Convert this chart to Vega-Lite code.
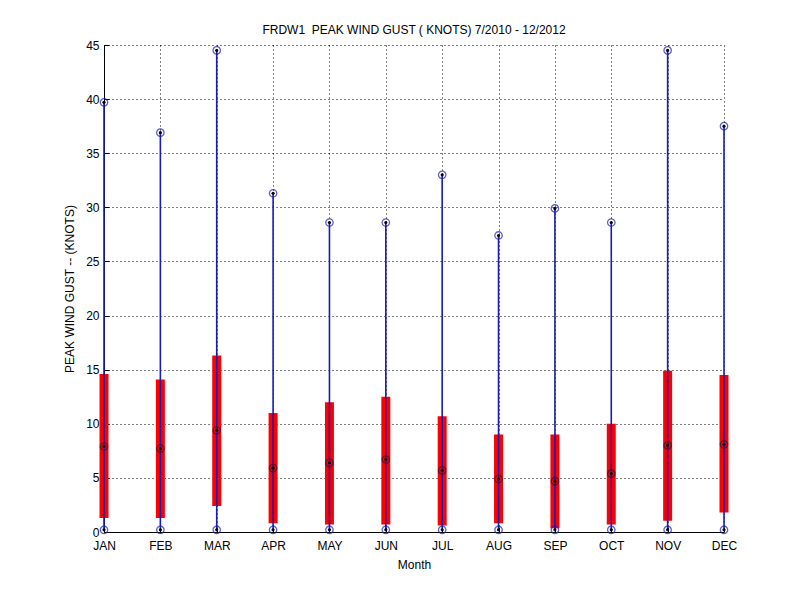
{
  "$schema": "https://vega.github.io/schema/vega-lite/v6.json",
  "autosize": "none",
  "width": 620,
  "height": 487,
  "padding": {"left": 104, "top": 45, "right": 76, "bottom": 68},
  "background": "white",
  "title": {
    "text": "FRDW1 \u00a0PEAK WIND GUST ( KNOTS) 7/2010 - 12/2012",
    "font": "Liberation Sans",
    "fontSize": 12,
    "fontWeight": "normal",
    "color": "black",
    "offset": 2
  },
  "config": {
    "view": {"stroke": null},
    "axis": {
      "labelFont": "Liberation Sans",
      "labelFontSize": 12,
      "labelColor": "black",
      "titleFont": "Liberation Sans",
      "titleFontSize": 12,
      "titleFontWeight": "normal",
      "titleColor": "black",
      "domainColor": "black",
      "tickColor": "black",
      "tickSize": -5,
      "gridColor": "black",
      "gridOpacity": 1,
      "gridDash": [1, 3],
      "gridWidth": 1,
      "zindex": 0
    }
  },
  "data": {
    "values": [
      {"month": "JAN", "min": 0.2, "q1": 1.3, "median": 7.9, "q3": 14.6, "max": 39.7},
      {"month": "FEB", "min": 0.2, "q1": 1.3, "median": 7.7, "q3": 14.1, "max": 36.9},
      {"month": "MAR", "min": 0.2, "q1": 2.4, "median": 9.4, "q3": 16.3, "max": 44.5},
      {"month": "APR", "min": 0.2, "q1": 0.8, "median": 5.9, "q3": 11.0, "max": 31.3},
      {"month": "MAY", "min": 0.2, "q1": 0.7, "median": 6.4, "q3": 12.0, "max": 28.6},
      {"month": "JUN", "min": 0.2, "q1": 0.7, "median": 6.7, "q3": 12.5, "max": 28.6},
      {"month": "JUL", "min": 0.2, "q1": 0.6, "median": 5.7, "q3": 10.7, "max": 33.0},
      {"month": "AUG", "min": 0.2, "q1": 0.8, "median": 4.9, "q3": 9.0, "max": 27.4},
      {"month": "SEP", "min": 0.2, "q1": 0.35, "median": 4.7, "q3": 9.0, "max": 29.9},
      {"month": "OCT", "min": 0.2, "q1": 0.7, "median": 5.4, "q3": 10.0, "max": 28.6},
      {"month": "NOV", "min": 0.2, "q1": 1.05, "median": 8.0, "q3": 14.9, "max": 44.5},
      {"month": "DEC", "min": 0.2, "q1": 1.8, "median": 8.1, "q3": 14.5, "max": 37.5}
    ]
  },
  "encoding": {
    "x": {
      "field": "month",
      "type": "ordinal",
      "sort": null,
      "scale": {"type": "point", "padding": 0},
      "axis": {"labelAngle": 0, "labelPadding": 13, "title": "Month", "titleFontSize": 12, "titlePadding": 8, "grid": true}
    }
  },
  "layer": [
    {
      "mark": {"type": "bar", "color": "#ff0000", "size": 9},
      "encoding": {
        "y": {
          "field": "q1",
          "type": "quantitative",
          "scale": {"domain": [0, 45], "nice": false},
          "axis": {"values": [0, 5, 10, 15, 20, 25, 30, 35, 40, 45], "labelPadding": 10, "title": "PEAK WIND GUST -- (KNOTS)", "titlePadding": 9, "grid": true}
        },
        "y2": {"field": "q3"}
      }
    },
    {
      "mark": {"type": "rule", "color": "#1c1cb0", "strokeWidth": 1.6},
      "encoding": {
        "y": {"field": "min", "type": "quantitative"},
        "y2": {"field": "max"}
      }
    },
    {
      "transform": [{"fold": ["min", "median", "max"], "as": ["stat", "value"]}],
      "mark": {"type": "point", "shape": "circle", "filled": false, "size": 55, "strokeWidth": 1.3},
      "encoding": {
        "y": {"field": "value", "type": "quantitative"},
        "color": {
          "field": "stat",
          "type": "nominal",
          "scale": {"domain": ["min", "median", "max"], "range": ["#1c1cb0", "#301040", "#1c1cb0"]},
          "legend": null
        }
      }
    },
    {
      "transform": [{"fold": ["min", "median", "max"], "as": ["stat", "value"]}],
      "mark": {"type": "point", "shape": "circle", "filled": true, "size": 10, "color": "black", "opacity": 1},
      "encoding": {
        "y": {"field": "value", "type": "quantitative"}
      }
    }
  ]
}
